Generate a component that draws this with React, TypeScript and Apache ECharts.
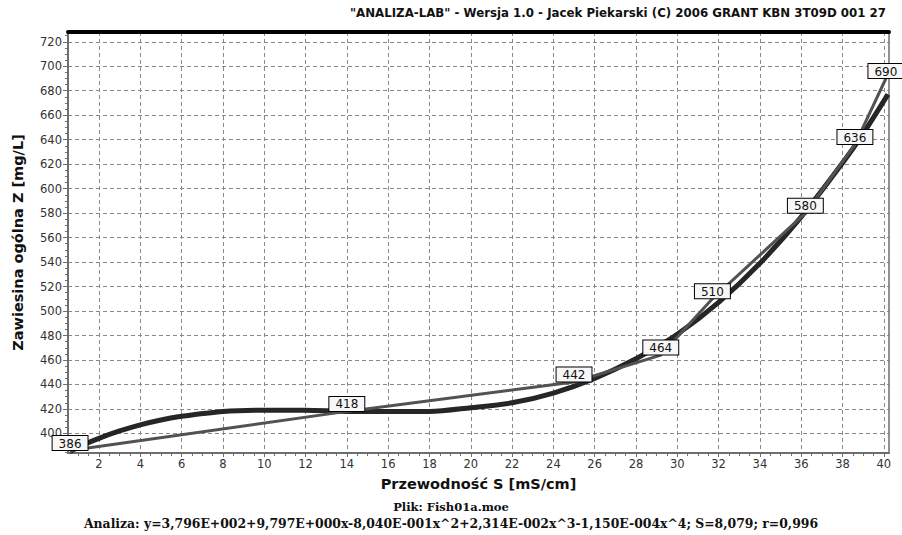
import React, { useEffect, useRef } from "react";
import * as echarts from "echarts";

// Measured samples: conductivity S [mS/cm] and total suspended solids Z [mg/L]
const conductivity = [0.6, 14, 25, 29.2, 31.7, 36.2, 38.6, 40.1];
const suspended = [386, 418, 442, 464, 510, 580, 636, 690];

// Fitted (4th degree polynomial) curve, sampled along the x range
const fitX = [0.6, 1, 2, 3, 4, 5, 6, 8, 10, 12, 14, 16, 18, 20, 22, 24, 26, 28, 30, 32, 34, 36, 38, 39, 40.2];
const fitY = [385, 389, 396, 402, 407, 411, 414, 418, 419, 419, 418, 418, 418, 421, 425, 433, 445, 461, 481, 507, 539, 577, 621, 645, 677];

// Axis tick labels
const xTicks = [2, 4, 6, 8, 10, 12, 14, 16, 18, 20, 22, 24, 26, 28, 30, 32, 34, 36, 38, 40];
const yTicks = [400, 420, 440, 460, 480, 500, 520, 540, 560, 580, 600, 620, 640, 660, 680, 700, 720];

const X_MIN = 0.5;
const X_MAX = 40.25;
const Y_MIN = 384;
const Y_MAX = 728;

const titleText = '"ANALIZA-LAB" - Wersja 1.0 - Jacek Piekarski (C) 2006 GRANT KBN 3T09D 001 27';
const fileText = "Plik: Fish01a.moe";
const fitText =
  "Analiza: y=3,796E+002+9,797E+000x-8,040E-001x^2+2,314E-002x^3-1,150E-004x^4; S=8,079; r=0,996";

const minorX: number[] = [];
for (let v = 1; v <= 40; v += 0.5) minorX.push(v);
const minorY: number[] = [];
for (let v = 385; v <= 725; v += 5) minorY.push(v);

const SANS = "DejaVu Sans";

export default function App() {
  const ref = useRef<HTMLDivElement>(null);

  useEffect(() => {
    if (!ref.current) return;
    const chart = echarts.init(ref.current, null, { renderer: "svg" });

    const hidden = {
      axisLabel: { show: false },
      splitLine: { show: false },
    };

    chart.setOption({
      animation: false,
      backgroundColor: "#ffffff",
      grid: { left: 68, right: 13, top: 32, bottom: 82 },
      xAxis: [
        {
          type: "value",
          min: X_MIN,
          max: X_MAX,
          position: "bottom",
          name: "Przewodność S [mS/cm]",
          nameLocation: "middle",
          nameGap: 23,
          nameTextStyle: { fontFamily: SANS, fontWeight: "bold", fontSize: 14.5, color: "#111" },
          axisLine: { show: true, onZero: false, lineStyle: { color: "#6e6e6e", width: 2 } },
          axisTick: { show: true, customValues: xTicks, length: 4, lineStyle: { color: "#6e6e6e" } },
          axisLabel: { customValues: xTicks, margin: 5, fontFamily: SANS, fontSize: 11.5, color: "#333" },
          splitLine: { show: true, lineStyle: { color: "#8a8a8a", type: [4, 3], width: 1 } },
        },
        {
          type: "value",
          min: X_MIN,
          max: X_MAX,
          position: "bottom",
          axisLine: { show: false },
          axisTick: { show: true, customValues: minorX, length: 3, lineStyle: { color: "#6e6e6e" } },
          ...hidden,
        },
        {
          type: "value",
          min: X_MIN,
          max: X_MAX,
          position: "top",
          axisLine: { show: true, onZero: false, lineStyle: { color: "#000", width: 4 } },
          axisTick: { show: false },
          ...hidden,
        },
      ],
      yAxis: [
        {
          type: "value",
          min: Y_MIN,
          max: Y_MAX,
          position: "left",
          name: "Zawiesina ogólna Z [mg/L]",
          nameLocation: "middle",
          nameGap: 43,
          nameTextStyle: { fontFamily: SANS, fontWeight: "bold", fontSize: 14.5, color: "#111" },
          axisLine: { show: true, onZero: false, lineStyle: { color: "#6e6e6e", width: 2 } },
          axisTick: { show: true, customValues: yTicks, length: 5, lineStyle: { color: "#6e6e6e" } },
          axisLabel: { customValues: yTicks, margin: 6, fontFamily: SANS, fontSize: 11.5, color: "#333" },
          splitLine: { show: true, lineStyle: { color: "#8a8a8a", type: [4, 3], width: 1 } },
        },
        {
          type: "value",
          min: Y_MIN,
          max: Y_MAX,
          position: "left",
          axisLine: { show: false },
          axisTick: { show: true, customValues: minorY, length: 3, lineStyle: { color: "#6e6e6e" } },
          ...hidden,
        },
        {
          type: "value",
          min: Y_MIN,
          max: Y_MAX,
          position: "right",
          axisLine: { show: true, onZero: false, lineStyle: { color: "#6e6e6e", width: 1.5 } },
          axisTick: { show: false },
          ...hidden,
        },
      ],
      series: [
        {
          name: "fit",
          type: "line",
          xAxisIndex: 0,
          yAxisIndex: 0,
          data: fitX.map((x, i) => [x, fitY[i]]),
          smooth: 0.3,
          symbol: "none",
          z: 2,
          lineStyle: { color: "#262626", width: 5 },
        },
        {
          name: "data",
          type: "line",
          xAxisIndex: 0,
          yAxisIndex: 0,
          data: conductivity.map((x, i) => [x, suspended[i]]),
          symbol: "circle",
          symbolSize: 1,
          showSymbol: true,
          z: 3,
          itemStyle: { color: "rgba(0,0,0,0)", borderWidth: 0 },
          lineStyle: { color: "#525252", width: 3 },
          label: {
            show: true,
            position: "top",
            distance: 0,
            formatter: (p: any) => String(p.value[1]),
            fontFamily: SANS,
            fontSize: 12,
            lineHeight: 13,
            color: "#111",
            backgroundColor: "#f7f7f7",
            borderColor: "#000",
            borderWidth: 1,
            padding: [1, 6, 0, 6],
          },
        },
      ],
      graphic: [
        {
          type: "text",
          right: 16,
          top: 7,
          style: {
            text: titleText,
            fontFamily: SANS,
            fontWeight: "bold",
            fontSize: 11.8,
            fill: "#111",
          },
        },
        {
          type: "text",
          x: 451,
          y: 501,
          style: {
            text: fileText,
            textAlign: "center",
            fontFamily: "DejaVu Serif",
            fontWeight: "bold",
            fontSize: 11.5,
            fill: "#111",
          },
        },
        {
          type: "text",
          x: 451,
          y: 517,
          style: {
            text: fitText,
            textAlign: "center",
            fontFamily: "DejaVu Serif",
            fontWeight: "bold",
            fontSize: 12.4,
            fill: "#111",
          },
        },
      ],
    });

    return () => chart.dispose();
  }, []);

  return (
    <div
      ref={ref}
      style={{ position: "fixed", left: 0, top: 0, width: 902, height: 535 }}
    />
  );
}
